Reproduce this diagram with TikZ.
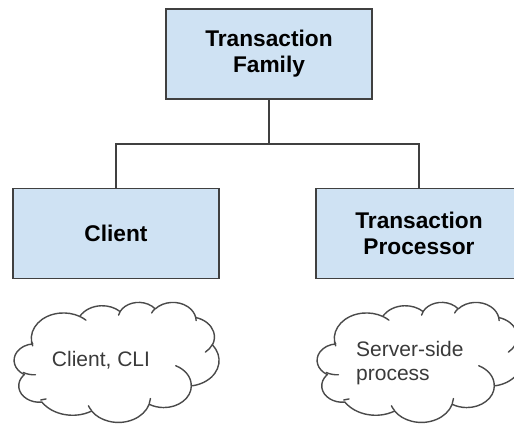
\documentclass[tikz,border=0pt]{standalone}
\usepackage{fontspec}
\setmainfont{Liberation Sans}
\usepackage{tikz}
\usetikzlibrary{calc}

\definecolor{boxfill}{HTML}{CFE2F3}
\definecolor{boxline}{HTML}{404040}
\definecolor{cloudline}{HTML}{4A4A4A}
\definecolor{cloudtext}{HTML}{3A3A3A}

% arc angles below are taken in the square frame
\def\cloudaspect{1}

% cloud in a 432 x 432 frame (y down), scaled to 206 x 120
\newcommand{\cloudoutline}[2]{%
    \begin{scope}[shift={(#1,#2)}, xscale=206/432, yscale=120/432,
        cloudline, line width=1.4pt, line join=round, line cap=round]
        \draw (39.00,143.70)
            \foreach \st/\sw/\w/\h
                [evaluate=\st as \ta using {atan2(\cloudaspect*\w*sin(\st),\h*cos(\st))},
                 evaluate=\st as \tb using {atan2(\cloudaspect*\w*sin(\st+\sw),\h*cos(\st+\sw))},
                 evaluate=\st as \td using {mod(\tb-\ta+720,360)}]
            in {-190.4875/123.7805/67.53/91.90, -144.1024/89.9452/53.33/72.67,
                -145.8079/99.7230/43.65/59.45, -130.9861/117.2417/48.57/65.95,
                -78.7089/109.0269/53.33/72.73, -46.2673/130.2690/67.75/92.20,
                0.6250/114.0333/57.85/78.67, 22.4516/115.1726/67.52/92.15,
                66.2426/71.6184/77.20/105.43, -274.9421/146.7356/43.60/59.18,
                -246.8285/152.5189/43.45/59.45}
            { arc[start angle=\ta, delta angle=\td, x radius=\w, y radius=\h] }
            -- cycle;
        % small inner folds
        \draw
            \foreach \px/\py/\st/\sw/\w/\h
                [evaluate=\st as \ta using {atan2(\cloudaspect*\w*sin(\st),\h*cos(\st))},
                 evaluate=\st as \tb using {atan2(\cloudaspect*\w*sin(\st+\sw),\h*cos(\st+\sw))},
                 evaluate=\st as \td using {mod(\tb-\ta+720,360)}]
            in {46.93/261.77/86.742/26.429/43.45/59.45,
                69.28/348.99/73.610/11.447/43.60/59.18,
                164.78/390.90/137.624/14.081/67.52/92.15,
                288.27/347.51/6.453/15.998/67.52/92.15,
                341.29/229.54/-70.292/70.917/57.85/78.67,
                417.98/153.54/30.318/27.752/53.33/72.73,
                383.24/54.26/-13.744/14.859/48.57/65.95,
                290.78/39.52/-149.181/18.195/48.57/65.95,
                221.41/47.20/-163.494/17.686/43.65/59.45,
                140.00/51.92/-66.707/12.319/67.53/91.90,
                41.27/157.89/157.654/11.858/67.53/91.90}
            { (\px,\py) arc[start angle=\ta, delta angle=\td, x radius=\w, y radius=\h] };
    \end{scope}%
}

\begin{document}
\begin{tikzpicture}[x=1pt, y=-1pt,
    block/.style={draw=boxline, fill=boxfill, line width=1.6pt, inner sep=0pt,
        minimum width=206pt, minimum height=90pt, align=center,
        font=\bfseries\fontsize{22.7}{26}\selectfont},
    cloudlabel/.style={text=cloudtext, inner sep=0pt, align=left,
        font=\fontsize{21}{24}\selectfont},
    link/.style={draw=boxline, line width=1.6pt}]
    \useasboundingbox (0,0) rectangle (514,425);
    \clip (0,0) rectangle (514,425);

    % Boxes
    \node[block] (family) at (269,54) {Transaction\\Family};
    \node[block] (client) at (116,233.5) {Client};
    \node[block] (proc) at (419,233.5) {Transaction\\Processor};

    % Tree links
    \coordinate (split) at (family.south |- 0,144);
    \draw[link] (family.south) -- (split) -| (client.north);
    \draw[link] (split) -| (proc.north);

    % Clouds
    \cloudoutline{13}{302}
    \cloudoutline{316}{302}
    \node[cloudlabel] (cli) at (101,360) {Client, CLI};
    \node[cloudlabel, anchor=west] (server) at (356,363) {Server-side\\process};
\end{tikzpicture}
\end{document}
